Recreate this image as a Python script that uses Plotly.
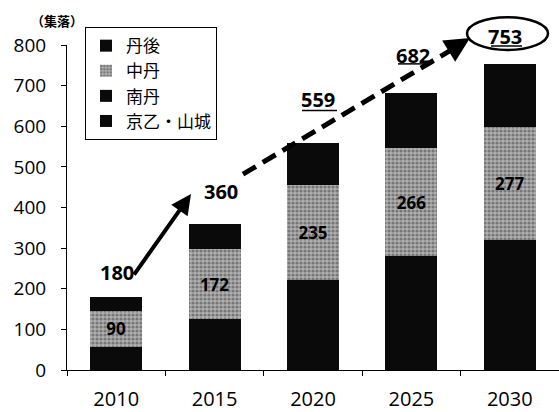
import plotly.graph_objects as go

years = ["2010", "2015", "2020", "2025", "2030"]
series_names = ["京乙・山城", "南丹", "中丹", "丹後"]  # bottom -> top
kyoto_yamashiro = [36, 52, 135, 130, 150]
nantan = [20, 73, 86, 150, 171]
chutan = [90, 172, 235, 266, 277]
tango = [34, 63, 103, 136, 155]
y_ticks = [0, 100, 200, 300, 400, 500, 600, 700, 800]

values = [kyoto_yamashiro, nantan, chutan, tango]
totals = [sum(v) for v in zip(*values)]

DIGIT_FONT = "Open Sans"
CJK_FONT = "Noto Sans CJK JP"

fig = go.Figure()
for name, vals in zip(series_names, values):
    if name == "中丹":
        fig.add_trace(go.Bar(
            x=years, y=vals, name=name,
            marker=dict(color="#a8a8a8", line=dict(width=0),
                        pattern=dict(shape=".", fgcolor="#3c3c3c", bgcolor="#b0b0b0",
                                     size=4, solidity=0.5)),
            text=[str(v) for v in vals], textposition="inside",
            insidetextanchor="middle", textangle=0,
            textfont=dict(family=DIGIT_FONT, size=17, color="black", weight="bold"),
        ))
    else:
        fig.add_trace(go.Bar(
            x=years, y=vals, name=name,
            marker=dict(color="#0a0a0a", line=dict(width=0)),
        ))

W, H = 559, 412
L, R, T, B = 67, 0, 45, 40
pw, ph = W - L - R, H - T - B


def px(xp):
    return (xp - L) / pw


def py(yp):
    return (H - B - yp) / ph


# total labels (with per-label offsets as in the original)
offsets = [(1, 24), (6, 32), (5, 43), (2, 37), (-5, 28)]
for i, tot in enumerate(totals):
    fig.add_annotation(x=i, y=tot, xref="x", yref="y", text=f"<b>{tot}</b>",
                       showarrow=False, xanchor="center", yanchor="middle",
                       xshift=offsets[i][0], yshift=offsets[i][1],
                       font=dict(family=DIGIT_FONT, size=20, color="black"))

# underlines below 559, 682, 753
for (xa, xb, yy) in [(302, 337, 111), (398, 430, 64), (491, 522, 46)]:
    fig.add_shape(type="line", xref="paper", yref="paper",
                  x0=px(xa), x1=px(xb), y0=py(yy), y1=py(yy),
                  line=dict(color="black", width=1.5))

# solid arrow 180 -> 360
fig.add_annotation(x=px(191), y=py(195), xref="paper", yref="paper", text="",
                   showarrow=True, ax=133 - 191, ay=277 - 195, arrowhead=2,
                   arrowsize=1, arrowwidth=4, arrowcolor="black")

# dashed arrow 360 -> 753
fig.add_shape(type="line", xref="paper", yref="paper",
              x0=px(243), y0=py(175), x1=px(458), y1=py(46),
              line=dict(color="black", width=5, dash="15px,8px"))
fig.add_annotation(x=px(470), y=py(38), xref="paper", yref="paper", text="",
                   showarrow=True, ax=-18, ay=11, arrowhead=2,
                   arrowsize=1, arrowwidth=5, arrowcolor="black")

# ellipse around 753
fig.add_shape(type="circle", xref="paper", yref="paper",
              x0=px(467), x1=px(548), y0=py(50), y1=py(17),
              line=dict(color="black", width=2.5))

# unit label
fig.add_annotation(x=px(57), y=py(20), xref="paper", yref="paper", text="（集落）",
                   showarrow=False, xanchor="center", yanchor="middle",
                   font=dict(family=CJK_FONT, size=13, color="black", weight="bold"))

fig.update_layout(
    width=W, height=H,
    margin=dict(l=L, r=R, t=T, b=B),
    barmode="stack", bargap=0.47,
    plot_bgcolor="white", paper_bgcolor="white",
    showlegend=True,
    legend=dict(traceorder="reversed", x=px(85), y=py(27), xanchor="left", yanchor="top",
                bordercolor="black", borderwidth=1, bgcolor="white",
                font=dict(family=CJK_FONT, size=17, color="black"),
                itemwidth=30),
    uniformtext=dict(mode="show", minsize=10),
)
fig.update_xaxes(type="category", showline=True, linecolor="black", linewidth=1,
                 ticks="outside", ticklen=5, tickcolor="black", tickson="boundaries",
                 tickfont=dict(family=DIGIT_FONT, size=20, color="black"),
                 ticklabelstandoff=11, range=[-0.5, 4.5], showgrid=False)
fig.update_yaxes(range=[0, 800], tickvals=y_ticks, showline=True, linecolor="black",
                 linewidth=1, ticks="outside", ticklen=5, tickcolor="black",
                 tickfont=dict(family=DIGIT_FONT, size=19, color="black"),
                 ticklabelstandoff=11, showgrid=False, zeroline=False)

fig.write_html("out.html", config={"displayModeBar": False},
               post_script="document.body.style.margin='0';")
